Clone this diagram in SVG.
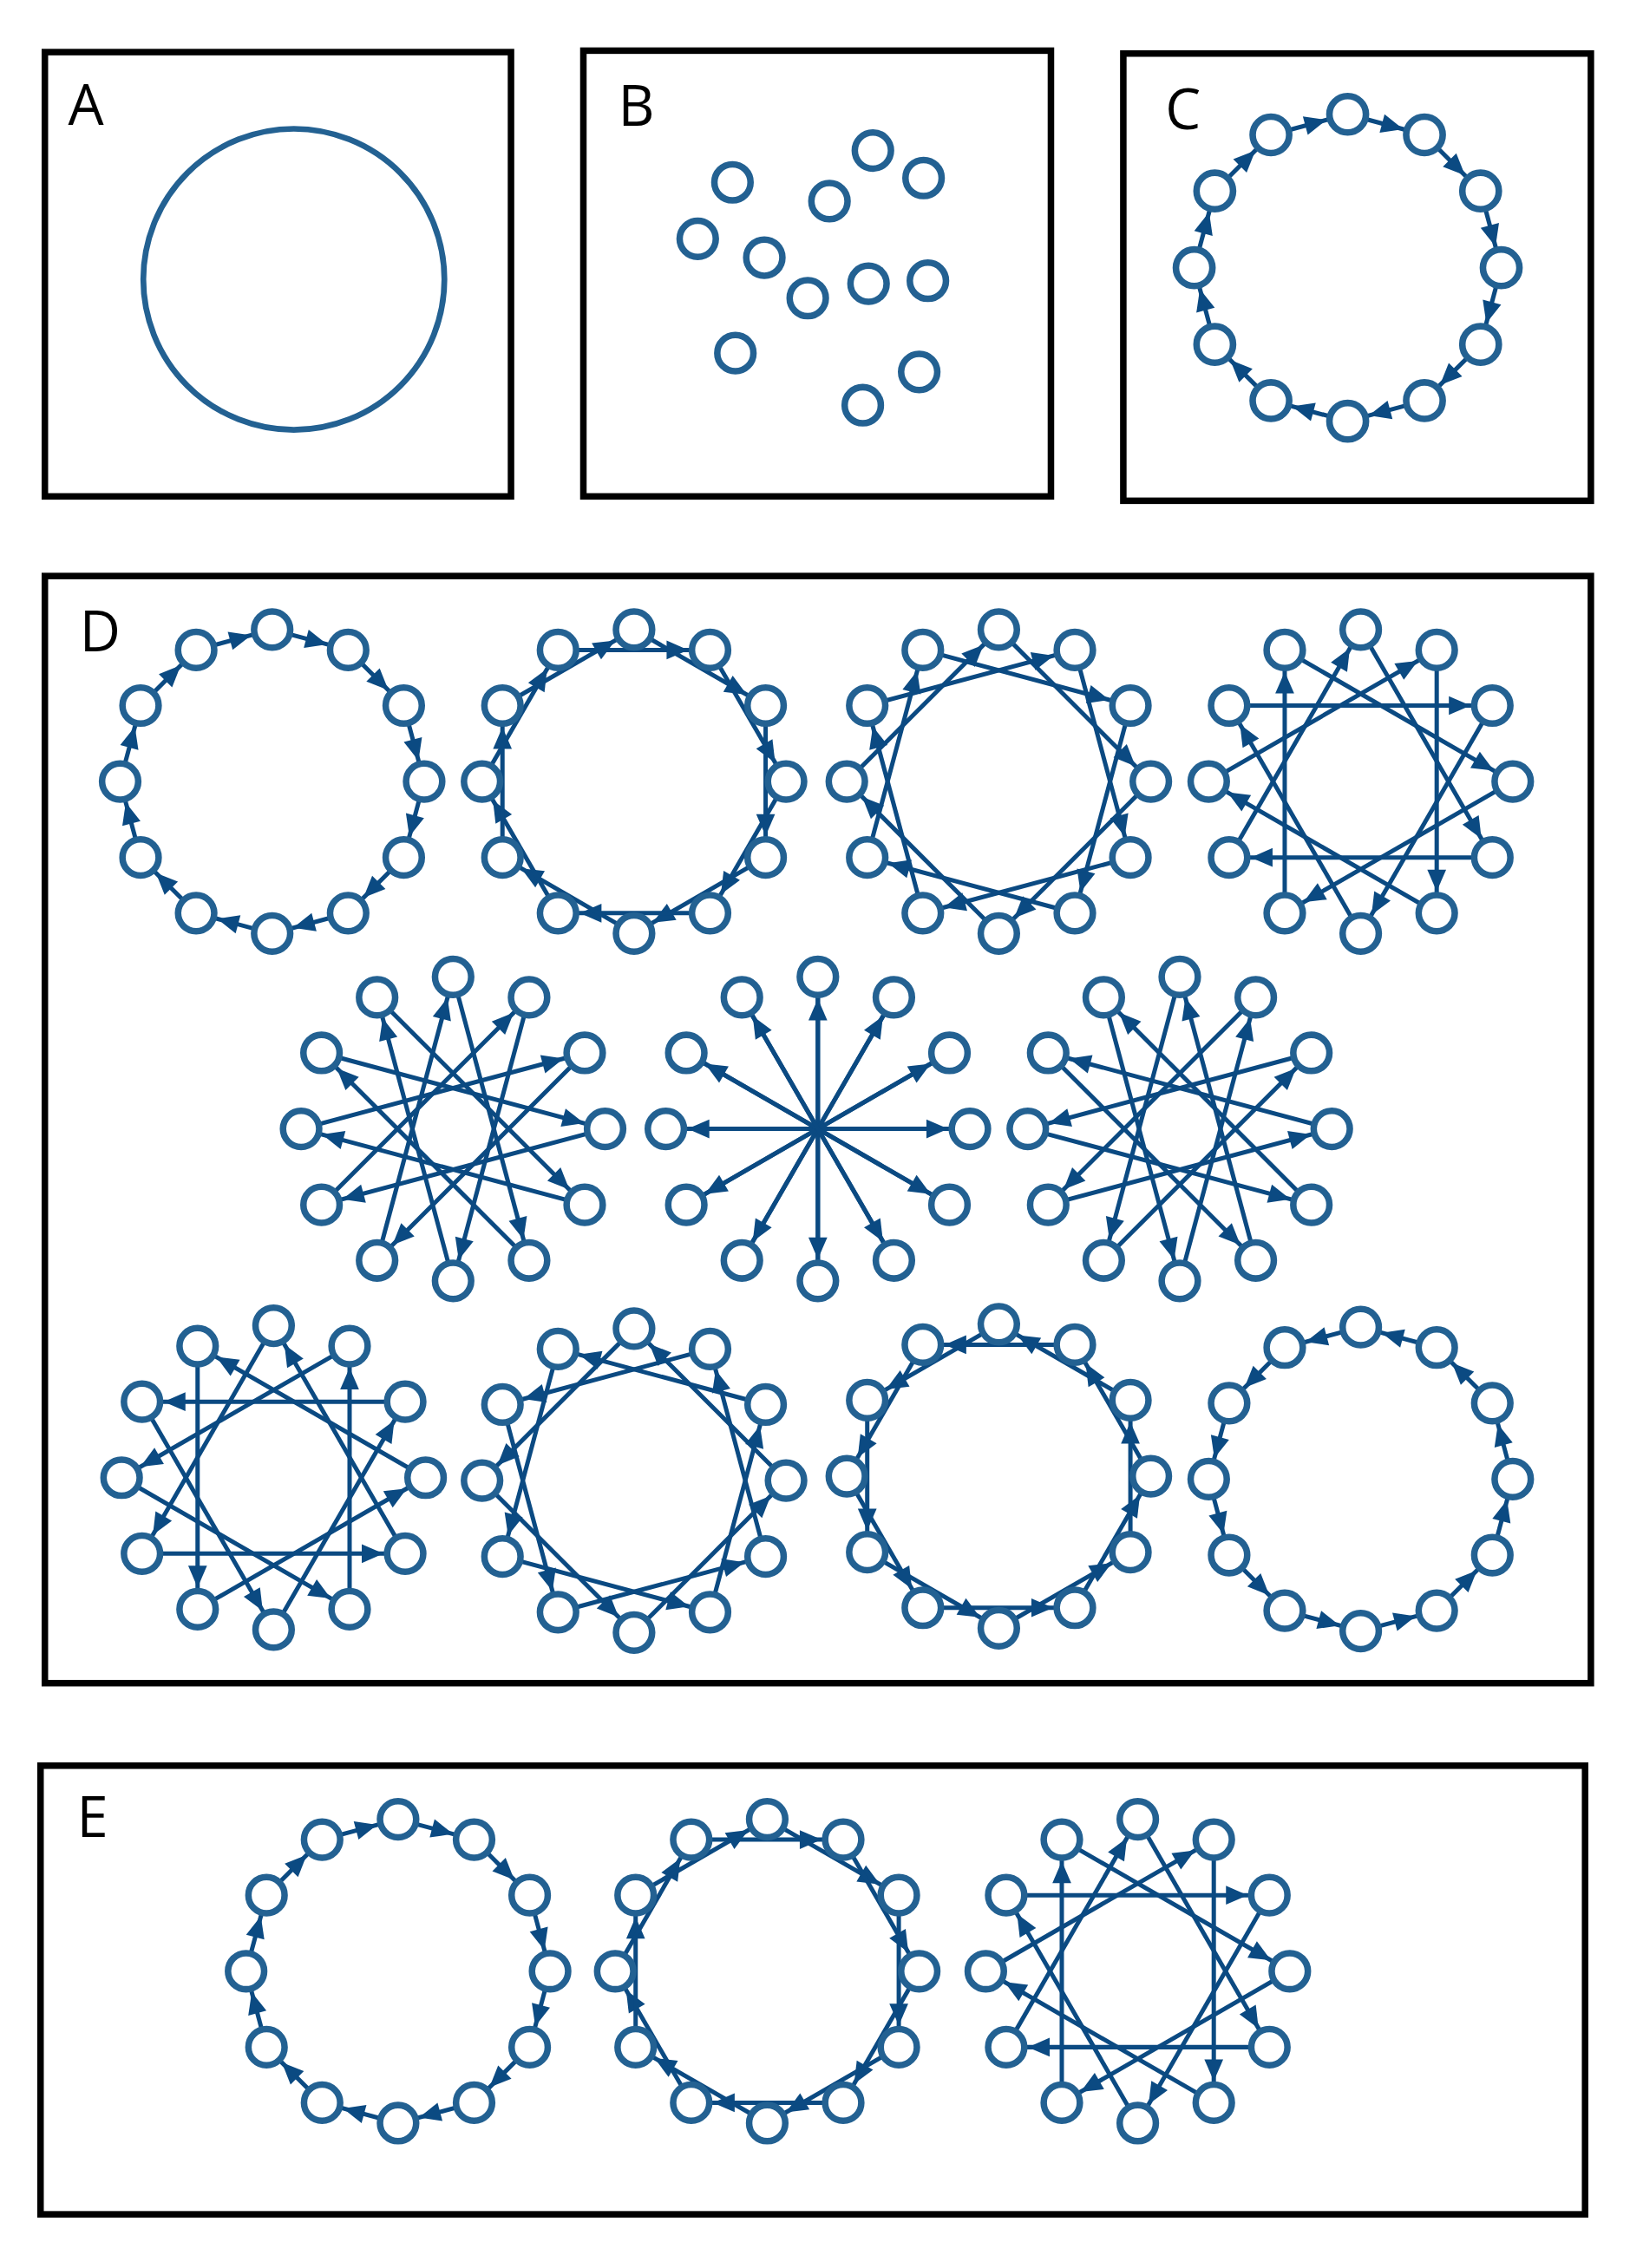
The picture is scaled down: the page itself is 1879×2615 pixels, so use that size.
<svg xmlns="http://www.w3.org/2000/svg" xmlns:xlink="http://www.w3.org/1999/xlink" width="1879" height="2615" viewBox="0 0 1879 2615">
<style>
.panel{fill:none;stroke:#000;stroke-width:4.5}
.lbl{font-family:"Open Sans","Liberation Sans",sans-serif;font-size:39px;fill:#000}
.nd{fill:#fff;stroke:#236192;stroke-width:4.5}
.e path{fill:none;stroke:#0b4a82;stroke-width:3;marker-end:url(#ah)}
</style>
<defs>
<marker id="ah" markerUnits="userSpaceOnUse" markerWidth="40" markerHeight="40" refX="0" refY="0" viewBox="-40 -20 40 40" orient="auto" overflow="visible">
<path d="M-30,-6.5 L-15,0 L-30,6.5 z" fill="#0b4a82"/>
</marker>
<g id="ring">
<circle class="nd" cx="0" cy="-105" r="12.5"/><circle class="nd" cx="52.5" cy="-90.9" r="12.5"/><circle class="nd" cx="90.9" cy="-52.5" r="12.5"/><circle class="nd" cx="105" cy="0" r="12.5"/><circle class="nd" cx="90.9" cy="52.5" r="12.5"/><circle class="nd" cx="52.5" cy="90.9" r="12.5"/><circle class="nd" cx="0" cy="105" r="12.5"/><circle class="nd" cx="-52.5" cy="90.9" r="12.5"/><circle class="nd" cx="-90.9" cy="52.5" r="12.5"/><circle class="nd" cx="-105" cy="0" r="12.5"/><circle class="nd" cx="-90.9" cy="-52.5" r="12.5"/><circle class="nd" cx="-52.5" cy="-90.9" r="12.5"/>
</g>
<g id="s1" class="e"><path d="M0 -105L52.5 -90.9"/><path d="M52.5 -90.9L90.9 -52.5"/><path d="M90.9 -52.5L105 0"/><path d="M105 0L90.9 52.5"/><path d="M90.9 52.5L52.5 90.9"/><path d="M52.5 90.9L0 105"/><path d="M0 105L-52.5 90.9"/><path d="M-52.5 90.9L-90.9 52.5"/><path d="M-90.9 52.5L-105 0"/><path d="M-105 0L-90.9 -52.5"/><path d="M-90.9 -52.5L-52.5 -90.9"/><path d="M-52.5 -90.9L0 -105"/></g>
<g id="s2" class="e"><path d="M0 -105L90.9 -52.5"/><path d="M52.5 -90.9L105 0"/><path d="M90.9 -52.5L90.9 52.5"/><path d="M105 0L52.5 90.9"/><path d="M90.9 52.5L0 105"/><path d="M52.5 90.9L-52.5 90.9"/><path d="M0 105L-90.9 52.5"/><path d="M-52.5 90.9L-105 0"/><path d="M-90.9 52.5L-90.9 -52.5"/><path d="M-105 0L-52.5 -90.9"/><path d="M-90.9 -52.5L0 -105"/><path d="M-52.5 -90.9L52.5 -90.9"/></g>
<g id="s3" class="e"><path d="M0 -105L105 0"/><path d="M52.5 -90.9L90.9 52.5"/><path d="M90.9 -52.5L52.5 90.9"/><path d="M105 0L0 105"/><path d="M90.9 52.5L-52.5 90.9"/><path d="M52.5 90.9L-90.9 52.5"/><path d="M0 105L-105 0"/><path d="M-52.5 90.9L-90.9 -52.5"/><path d="M-90.9 52.5L-52.5 -90.9"/><path d="M-105 0L0 -105"/><path d="M-90.9 -52.5L52.5 -90.9"/><path d="M-52.5 -90.9L90.9 -52.5"/></g>
<g id="s4" class="e"><path d="M0 -105L90.9 52.5"/><path d="M52.5 -90.9L52.5 90.9"/><path d="M90.9 -52.5L0 105"/><path d="M105 0L-52.5 90.9"/><path d="M90.9 52.5L-90.9 52.5"/><path d="M52.5 90.9L-105 0"/><path d="M0 105L-90.9 -52.5"/><path d="M-52.5 90.9L-52.5 -90.9"/><path d="M-90.9 52.5L0 -105"/><path d="M-105 0L52.5 -90.9"/><path d="M-90.9 -52.5L90.9 -52.5"/><path d="M-52.5 -90.9L105 0"/></g>
<g id="s5" class="e"><path d="M0 -105L52.5 90.9"/><path d="M52.5 -90.9L0 105"/><path d="M90.9 -52.5L-52.5 90.9"/><path d="M105 0L-90.9 52.5"/><path d="M90.9 52.5L-105 0"/><path d="M52.5 90.9L-90.9 -52.5"/><path d="M0 105L-52.5 -90.9"/><path d="M-52.5 90.9L0 -105"/><path d="M-90.9 52.5L52.5 -90.9"/><path d="M-105 0L90.9 -52.5"/><path d="M-90.9 -52.5L105 0"/><path d="M-52.5 -90.9L90.9 52.5"/></g>
<g id="s6" class="e"><path d="M0 -105L0 105"/><path d="M52.5 -90.9L-52.5 90.9"/><path d="M90.9 -52.5L-90.9 52.5"/><path d="M105 0L-105 0"/><path d="M90.9 52.5L-90.9 -52.5"/><path d="M52.5 90.9L-52.5 -90.9"/><path d="M0 105L0 -105"/><path d="M-52.5 90.9L52.5 -90.9"/><path d="M-90.9 52.5L90.9 -52.5"/><path d="M-105 0L105 0"/><path d="M-90.9 -52.5L90.9 52.5"/><path d="M-52.5 -90.9L52.5 90.9"/></g>
<g id="s7" class="e"><path d="M0 -105L-52.5 90.9"/><path d="M52.5 -90.9L-90.9 52.5"/><path d="M90.9 -52.5L-105 0"/><path d="M105 0L-90.9 -52.5"/><path d="M90.9 52.5L-52.5 -90.9"/><path d="M52.5 90.9L0 -105"/><path d="M0 105L52.5 -90.9"/><path d="M-52.5 90.9L90.9 -52.5"/><path d="M-90.9 52.5L105 0"/><path d="M-105 0L90.9 52.5"/><path d="M-90.9 -52.5L52.5 90.9"/><path d="M-52.5 -90.9L0 105"/></g>
<g id="s8" class="e"><path d="M0 -105L-90.9 52.5"/><path d="M52.5 -90.9L-105 0"/><path d="M90.9 -52.5L-90.9 -52.5"/><path d="M105 0L-52.5 -90.9"/><path d="M90.9 52.5L0 -105"/><path d="M52.5 90.9L52.5 -90.9"/><path d="M0 105L90.9 -52.5"/><path d="M-52.5 90.9L105 0"/><path d="M-90.9 52.5L90.9 52.5"/><path d="M-105 0L52.5 90.9"/><path d="M-90.9 -52.5L0 105"/><path d="M-52.5 -90.9L-52.5 90.9"/></g>
<g id="s9" class="e"><path d="M0 -105L-105 0"/><path d="M52.5 -90.9L-90.9 -52.5"/><path d="M90.9 -52.5L-52.5 -90.9"/><path d="M105 0L0 -105"/><path d="M90.9 52.5L52.5 -90.9"/><path d="M52.5 90.9L90.9 -52.5"/><path d="M0 105L105 0"/><path d="M-52.5 90.9L90.9 52.5"/><path d="M-90.9 52.5L52.5 90.9"/><path d="M-105 0L0 105"/><path d="M-90.9 -52.5L-52.5 90.9"/><path d="M-52.5 -90.9L-90.9 52.5"/></g>
<g id="s10" class="e"><path d="M0 -105L-90.9 -52.5"/><path d="M52.5 -90.9L-52.5 -90.9"/><path d="M90.9 -52.5L0 -105"/><path d="M105 0L52.5 -90.9"/><path d="M90.9 52.5L90.9 -52.5"/><path d="M52.5 90.9L105 0"/><path d="M0 105L90.9 52.5"/><path d="M-52.5 90.9L52.5 90.9"/><path d="M-90.9 52.5L0 105"/><path d="M-105 0L-52.5 90.9"/><path d="M-90.9 -52.5L-90.9 52.5"/><path d="M-52.5 -90.9L-105 0"/></g>
<g id="s11" class="e"><path d="M0 -105L-52.5 -90.9"/><path d="M52.5 -90.9L0 -105"/><path d="M90.9 -52.5L52.5 -90.9"/><path d="M105 0L90.9 -52.5"/><path d="M90.9 52.5L105 0"/><path d="M52.5 90.9L90.9 52.5"/><path d="M0 105L52.5 90.9"/><path d="M-52.5 90.9L0 105"/><path d="M-90.9 52.5L-52.5 90.9"/><path d="M-105 0L-90.9 52.5"/><path d="M-90.9 -52.5L-105 0"/><path d="M-52.5 -90.9L-90.9 -52.5"/></g>
</defs>
<rect width="1879" height="2615" fill="#fff"/>
<g transform="scale(1.6687)">
<g id="panels">
<rect class="panel" x="31" y="36" width="322" height="307"/>
<rect class="panel" x="403" y="35" width="323" height="308"/>
<rect class="panel" x="776" y="37" width="323" height="309"/>
<rect class="panel" x="31" y="398" width="1068" height="765"/>
<rect class="panel" x="28" y="1220" width="1067" height="310"/>
<text class="lbl" x="47" y="86">A</text>
<text class="lbl" x="427" y="87">B</text>
<text class="lbl" x="805" y="89">C</text>
<text class="lbl" x="55" y="450">D</text>
<text class="lbl" x="53" y="1269">E</text>
</g>
<g id="bigcircle"><circle cx="203" cy="193" r="104" fill="none" stroke="#236192" stroke-width="4"/></g>
<g id="scattered">
<circle class="nd" cx="506" cy="126" r="12.5"/><circle class="nd" cx="603" cy="104" r="12.5"/><circle class="nd" cx="638" cy="123" r="12.5"/><circle class="nd" cx="573" cy="139" r="12.5"/><circle class="nd" cx="482" cy="165" r="12.5"/><circle class="nd" cx="528" cy="178" r="12.5"/><circle class="nd" cx="558" cy="206" r="12.5"/><circle class="nd" cx="600" cy="196" r="12.5"/><circle class="nd" cx="641" cy="194" r="12.5"/><circle class="nd" cx="508" cy="244" r="12.5"/><circle class="nd" cx="635" cy="257" r="12.5"/><circle class="nd" cx="596" cy="280" r="12.5"/>
</g>
<g id="connectors">
<use xlink:href="#s1" transform="translate(931,185) scale(1.01)"/>
<use xlink:href="#s1" x="188" y="540"/>
<use xlink:href="#s2" x="438" y="540"/>
<use xlink:href="#s3" x="690" y="540"/>
<use xlink:href="#s4" x="940" y="540"/>
<use xlink:href="#s5" x="313" y="780"/>
<use xlink:href="#s6" x="565" y="780"/>
<use xlink:href="#s7" x="815" y="780"/>
<use xlink:href="#s8" x="189" y="1021"/>
<use xlink:href="#s9" x="438" y="1023"/>
<use xlink:href="#s10" x="690" y="1020"/>
<use xlink:href="#s11" x="940" y="1022"/>
<use xlink:href="#s1" x="275" y="1362"/>
<use xlink:href="#s2" x="530" y="1362"/>
<use xlink:href="#s4" x="786" y="1362"/>
</g>
<g id="ringC"><use xlink:href="#ring" transform="translate(931,185) scale(1.01)"/></g>
<g id="ringD1"><use xlink:href="#ring" x="188" y="540"/></g>
<g id="ringD2"><use xlink:href="#ring" x="438" y="540"/></g>
<g id="ringD3"><use xlink:href="#ring" x="690" y="540"/></g>
<g id="ringD4"><use xlink:href="#ring" x="940" y="540"/></g>
<g id="ringD5"><use xlink:href="#ring" x="313" y="780"/></g>
<g id="ringD6"><use xlink:href="#ring" x="565" y="780"/></g>
<g id="ringD7"><use xlink:href="#ring" x="815" y="780"/></g>
<g id="ringD8"><use xlink:href="#ring" x="189" y="1021"/></g>
<g id="ringD9"><use xlink:href="#ring" x="438" y="1023"/></g>
<g id="ringD10"><use xlink:href="#ring" x="690" y="1020"/></g>
<g id="ringD11"><use xlink:href="#ring" x="940" y="1022"/></g>
<g id="ringE1"><use xlink:href="#ring" x="275" y="1362"/></g>
<g id="ringE2"><use xlink:href="#ring" x="530" y="1362"/></g>
<g id="ringE3"><use xlink:href="#ring" x="786" y="1362"/></g>
</g>
</svg>
